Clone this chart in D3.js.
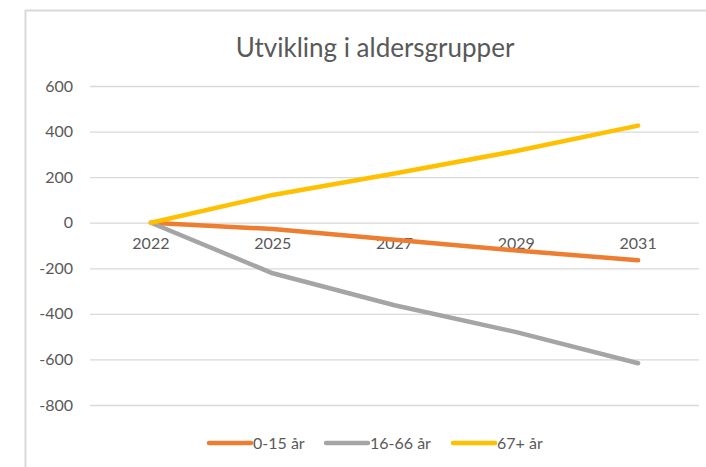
<!DOCTYPE html>
<html>
<head>
<meta charset="utf-8">
<script src="https://cdn.jsdelivr.net/npm/d3@7"></script>
<style>
  body { margin: 0; background: #fff; }
  svg { display: block; font-family: Lato, "Open Sans", sans-serif; }
</style>
</head>
<body>
<svg></svg>
<script>
var width = 706;
var height = 467;

// data
var years = ["2022", "2025", "2027", "2029", "2031"];
var barn = [0, -28, -75, -122, -165];          // 0-15 år
var voksne = [0, -222, -362, -480, -617];      // 16-66 år
var eldre = [0, 122, 216, 315, 426];           // 67+ år
var yTicks = [600, 400, 200, 0, -200, -400, -600, -800];

var series = [
    {name: "0-15 år", values: barn, color: "#ED7D31"},
    {name: "16-66 år", values: voksne, color: "#A5A5A5"},
    {name: "67+ år", values: eldre, color: "#FFC000"}
];

var plot = {left: 90, right: 699, top: 86, bottom: 405};

var svg = d3.select("svg")
            .attr("width", width)
            .attr("height", height);

// chart frame (runs off the right and bottom of the crop)
svg.append("rect")
    .attr("x", 25.5)
    .attr("y", 10.5)
    .attr("width", 720)
    .attr("height", 480)
    .attr("fill", "none")
    .attr("stroke", "#d9d9d9")
    .attr("stroke-width", 2);

svg.append("text")
    .attr("x", 375)
    .attr("y", 57)
    .attr("text-anchor", "middle")
    .attr("font-size", 26)
    .attr("fill", "#595959")
    .text("Utvikling i aldersgrupper");

var xscale = d3.scaleBand()
               .domain(years)
               .range([plot.left, plot.right]);

var yscale = d3.scaleLinear()
               .domain([-800, 600])
               .range([plot.bottom, plot.top]);

var yaxis = d3.axisLeft(yscale)
              .tickValues(yTicks)
              .tickFormat(function(d){ return String(d); })   // plain hyphen like Excel
              .tickSize(-(plot.right - plot.left))
              .tickPadding(17);

svg.append("g")
    .attr("transform", "translate(" + plot.left + ",0)")
    .call(yaxis)
    .call(function(g){
        g.select(".domain").remove();
        g.selectAll("line").attr("stroke", "#d9d9d9").attr("stroke-width", 1.3);
        g.selectAll("text").attr("fill", "#595959").attr("font-size", 16)
         .attr("font-family", "Lato, sans-serif");
    });

// category labels sit just under the zero line
var xaxis = d3.axisBottom(xscale)
              .tickSize(0)
              .tickPadding(15);

svg.append("g")
    .attr("transform", "translate(0," + yscale(0) + ")")
    .call(xaxis)
    .call(function(g){
        g.select(".domain").remove();
        g.selectAll("text").attr("fill", "#595959").attr("font-size", 16)
         .attr("font-family", "Lato, sans-serif");
    });

var line = d3.line()
             .x(function(d, i){ return xscale(years[i]) + xscale.bandwidth() / 2; })
             .y(function(d){ return yscale(d); });

svg.selectAll("path.serie")
    .data(series)
    .enter().append("path")
    .attr("class", "serie")
    .attr("d", function(d){ return line(d.values); })
    .attr("fill", "none")
    .attr("stroke", function(d){ return d.color; })
    .attr("stroke-width", 4.5)
    .attr("stroke-linecap", "round")
    .attr("stroke-linejoin", "round");

// legend
var legendX = [209, 326, 453];
var legend = svg.selectAll("g.legend")
    .data(series)
    .enter().append("g")
    .attr("class", "legend")
    .attr("transform", function(d, i){ return "translate(" + legendX[i] + ",443)"; });

legend.append("line")
    .attr("x1", 0).attr("x2", 42)
    .attr("stroke", function(d){ return d.color; })
    .attr("stroke-width", 4.5)
    .attr("stroke-linecap", "round");

legend.append("text")
    .attr("x", 44)
    .attr("dy", "0.35em")
    .attr("font-size", 16)
    .attr("fill", "#595959")
    .text(function(d){ return d.name; });
</script>
</body>
</html>
